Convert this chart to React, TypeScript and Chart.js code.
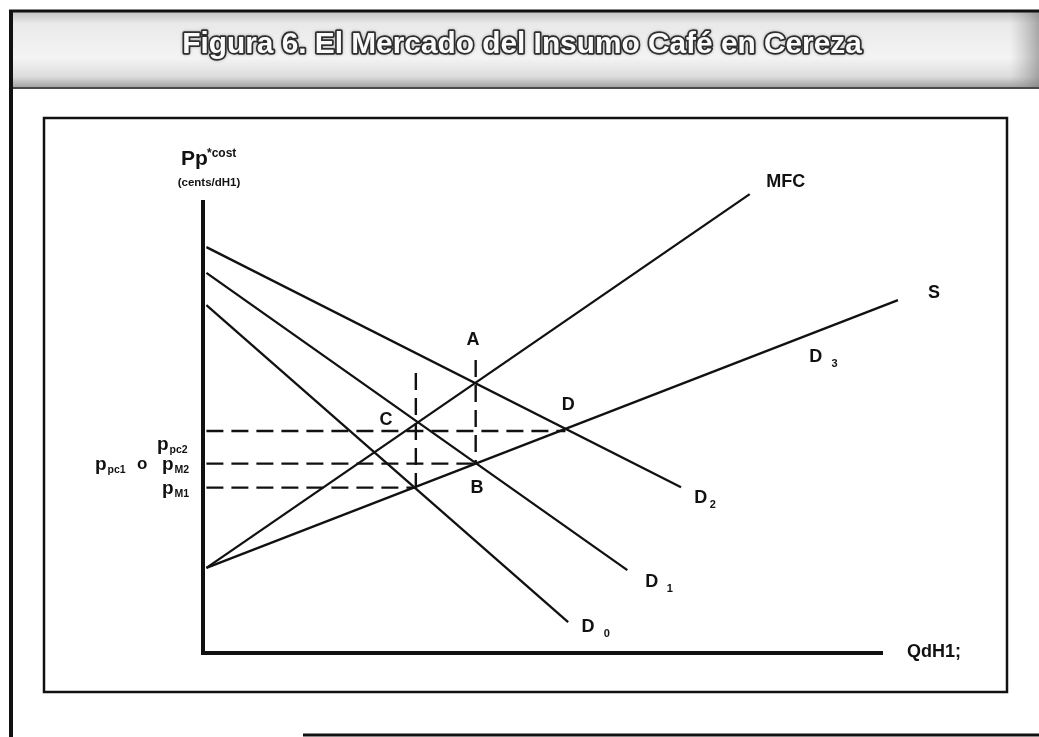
import React, { useEffect, useRef } from "react";
import { Chart, registerables } from "chart.js";

Chart.register(...registerables);

// ---------- text ----------
const titleText = "Figura 6. El Mercado del Insumo Café en Cereza";
const yAxisLabel = "Pp";
const yAxisSup = "*cost";
const yAxisUnits = "(cents/dH1)";
const xAxisLabel = "QdH1;";

// ---------- curves (quantity, price) at both ends ----------
const mfcQ = [0.5, 80.4];
const mfcP = [18.8, 101.3];
const supplyQ = [0.5, 102.2];
const supplyP = [18.8, 77.9];
const d2Q = [0.5, 70.3];
const d2P = [89.6, 36.6];
const d1Q = [0.5, 62.4];
const d1P = [83.9, 18.3];
const d0Q = [0.5, 53.7];
const d0P = [76.8, 6.8];

// ---------- dashed guides ----------
const priceLevels = [49.0, 41.8, 36.5]; // ppc2, pM2, pM1
const priceLevelEnds = [53.3, 40.1, 31.3]; // at D, B, S∩D0
const guideQ = [31.3, 40.1]; // through C, through A/B
const guideTop = [61.8, 64.7];
const guideBottom = [36.5, 41.8];

// ---------- point labels ----------
const pointNames = ["A", "B", "C", "D"];
const pointQ = [39.7, 40.3, 26.9, 53.7];
const pointP = [69.1, 36.4, 51.4, 54.7];

// ---------- curve labels ----------
const curveNames = ["MFC", "S", "D", "D", "D", "D"];
const curveSubs = ["", "", "3", "2", "1", "0"];
const curveLabelQ = [85.7, 107.5, 90.1, 73.2, 66.0, 56.6];
const curveLabelP = [104.0, 79.5, 65.3, 34.2, 15.7, 5.7];

// ---------- price-level labels (left of axis) ----------
const priceLabelMain = ["p", "p", "p"];
const priceLabelSub = ["pc2", "M2", "M1"];
const priceLabelExtraMain = "p";
const priceLabelExtraSub = "pc1";
const priceLabelJoin = "o";

const FONT = "'Liberation Sans', Arial, Helvetica, sans-serif";
const INK = "#111";

function seg(xs: number[], ys: number[]) {
  return xs.map((x, i) => ({ x, y: ys[i] }));
}

export default function App() {
  const ref = useRef<HTMLCanvasElement | null>(null);

  useEffect(() => {
    const canvas = ref.current;
    if (!canvas) return;

    const solid = (data: { x: number; y: number }[]) => ({
      data,
      borderColor: INK,
      borderWidth: 2.3,
      pointRadius: 0,
      showLine: true,
      fill: false,
      tension: 0,
      clip: false as const,
    });
    const dashed = (data: { x: number; y: number }[]) => ({
      ...solid(data),
      borderWidth: 2.4,
      borderDash: [17, 8],
    });

    const datasets: any[] = [
      solid(seg(mfcQ, mfcP)),
      solid(seg(supplyQ, supplyP)),
      solid(seg(d2Q, d2P)),
      solid(seg(d1Q, d1P)),
      solid(seg(d0Q, d0P)),
    ];
    priceLevels.forEach((p, i) => {
      datasets.push(dashed(seg([0.5, priceLevelEnds[i]], [p, p])));
    });
    guideQ.forEach((q, i) => {
      datasets.push(dashed(seg([q, q], [guideTop[i], guideBottom[i]])));
    });

    const framePlugin = {
      id: "frame",
      beforeDraw(chart: any) {
        const ctx = chart.ctx as CanvasRenderingContext2D;
        ctx.save();
        ctx.fillStyle = "#ffffff";
        ctx.fillRect(0, 0, chart.width, chart.height);

        // title band
        const g = ctx.createLinearGradient(0, 12, 0, 88);
        g.addColorStop(0, "#c4c4c4");
        g.addColorStop(0.15, "#e9e9e9");
        g.addColorStop(0.6, "#f4f4f4");
        g.addColorStop(0.85, "#dcdcdc");
        g.addColorStop(1, "#a0a0a0");
        ctx.fillStyle = g;
        ctx.fillRect(11, 12, 1028, 76);
        const gr = ctx.createLinearGradient(1010, 0, 1039, 0);
        gr.addColorStop(0, "rgba(150,150,150,0)");
        gr.addColorStop(1, "rgba(120,120,120,0.6)");
        ctx.fillStyle = gr;
        ctx.fillRect(1010, 12, 29, 76);
        ctx.strokeStyle = "#4a4a4a";
        ctx.lineWidth = 2;
        ctx.beginPath();
        ctx.moveTo(11, 88);
        ctx.lineTo(1039, 88);
        ctx.stroke();

        // outer frame
        ctx.strokeStyle = INK;
        ctx.lineWidth = 3;
        ctx.beginPath();
        ctx.moveTo(9, 11);
        ctx.lineTo(1039, 11);
        ctx.stroke();
        ctx.lineWidth = 4;
        ctx.beginPath();
        ctx.moveTo(11, 10);
        ctx.lineTo(11, 737);
        ctx.stroke();
        ctx.lineWidth = 3;
        ctx.beginPath();
        ctx.moveTo(303, 735);
        ctx.lineTo(1039, 735);
        ctx.stroke();

        // inner box
        ctx.lineWidth = 2.5;
        ctx.strokeRect(44, 118, 963, 574);

        // title
        let size = 28;
        ctx.font = `bold ${size}px ${FONT}`;
        const w = ctx.measureText(titleText).width;
        size = (size * 680) / w;
        ctx.font = `bold ${size}px ${FONT}`;
        ctx.textAlign = "center";
        ctx.textBaseline = "middle";
        ctx.lineJoin = "round";
        ctx.shadowColor = "rgba(0,0,0,0.3)";
        ctx.shadowBlur = 3;
        ctx.strokeStyle = "#2e2e2e";
        ctx.lineWidth = 3.5;
        ctx.strokeText(titleText, 522, 45);
        ctx.shadowBlur = 0;
        ctx.shadowColor = "transparent";
        ctx.fillStyle = "#fbfbfb";
        ctx.fillText(titleText, 522, 45);
        ctx.restore();
      },
      afterDatasetsDraw(chart: any) {
        const ctx = chart.ctx as CanvasRenderingContext2D;
        const a = chart.chartArea;
        const xs = chart.scales.x;
        const ys = chart.scales.y;
        ctx.save();
        ctx.strokeStyle = INK;
        ctx.lineCap = "butt";
        // axes
        ctx.lineWidth = 4;
        ctx.beginPath();
        ctx.moveTo(a.left, a.top);
        ctx.lineTo(a.left, a.bottom + 2);
        ctx.moveTo(a.left - 2, a.bottom);
        ctx.lineTo(a.right, a.bottom);
        ctx.stroke();

        ctx.fillStyle = INK;
        ctx.textAlign = "center";
        ctx.textBaseline = "middle";

        // point labels
        ctx.font = `bold 18px ${FONT}`;
        pointNames.forEach((t, i) => {
          ctx.fillText(t, xs.getPixelForValue(pointQ[i]), ys.getPixelForValue(pointP[i]));
        });

        // curve labels
        const subDx = [0, 0, 19, 12, 18, 19];
        curveNames.forEach((t, i) => {
          const px = xs.getPixelForValue(curveLabelQ[i]);
          const py = ys.getPixelForValue(curveLabelP[i]);
          ctx.font = `bold 18px ${FONT}`;
          ctx.textAlign = "center";
          ctx.fillText(t, px, py);
          if (curveSubs[i]) {
            ctx.font = `bold 11px ${FONT}`;
            ctx.fillText(curveSubs[i], px + subDx[i], py + 7);
          }
        });

        // x axis label
        ctx.font = `bold 18px ${FONT}`;
        ctx.textAlign = "left";
        ctx.fillText(xAxisLabel, a.right + 24, a.bottom - 1);

        // y axis label
        ctx.textBaseline = "alphabetic";
        ctx.font = `bold 21px ${FONT}`;
        ctx.fillText(yAxisLabel, 181, 165);
        ctx.font = `bold 12px ${FONT}`;
        ctx.fillText(yAxisSup, 207, 157);
        ctx.textAlign = "center";
        ctx.font = `bold 11.5px ${FONT}`;
        ctx.fillText(yAxisUnits, 209, 186);

        // price labels
        const drawPS = (main: string, sub: string, x: number, y: number) => {
          ctx.textAlign = "left";
          ctx.font = `bold 19px ${FONT}`;
          ctx.fillText(main, x, y);
          const mw = ctx.measureText(main).width;
          ctx.font = `bold 10.5px ${FONT}`;
          ctx.fillText(sub, x + mw + 1, y + 3);
        };
        const baseOffsets = [19, 6, 6];
        const mainX = [157, 162, 162];
        priceLevels.forEach((p, i) => {
          const y = ys.getPixelForValue(p) + baseOffsets[i];
          drawPS(priceLabelMain[i], priceLabelSub[i], mainX[i], y);
        });
        const y2 = ys.getPixelForValue(priceLevels[1]) + baseOffsets[1];
        drawPS(priceLabelExtraMain, priceLabelExtraSub, 95, y2);
        ctx.font = `bold 17px ${FONT}`;
        ctx.textAlign = "left";
        ctx.fillText(priceLabelJoin, 137, y2 - 1);

        ctx.restore();
      },
    };

    const chart = new Chart(canvas, {
      type: "scatter",
      data: { datasets },
      options: {
        responsive: false,
        animation: false,
        devicePixelRatio: 1,
        layout: { padding: { left: 203, right: 156, top: 200, bottom: 84 } },
        scales: {
          x: { type: "linear", min: 0, max: 100, display: false },
          y: { type: "linear", min: 0, max: 100, display: false },
        },
        plugins: {
          legend: { display: false },
          tooltip: { enabled: false },
          title: { display: false },
        },
        events: [],
      },
      plugins: [framePlugin],
    });
    return () => chart.destroy();
  }, []);

  return (
    <div style={{ position: "fixed", left: 0, top: 0, width: 1039, height: 737, background: "#fff" }}>
      <canvas ref={ref} width={1039} height={737} style={{ display: "block" }} />
    </div>
  );
}
